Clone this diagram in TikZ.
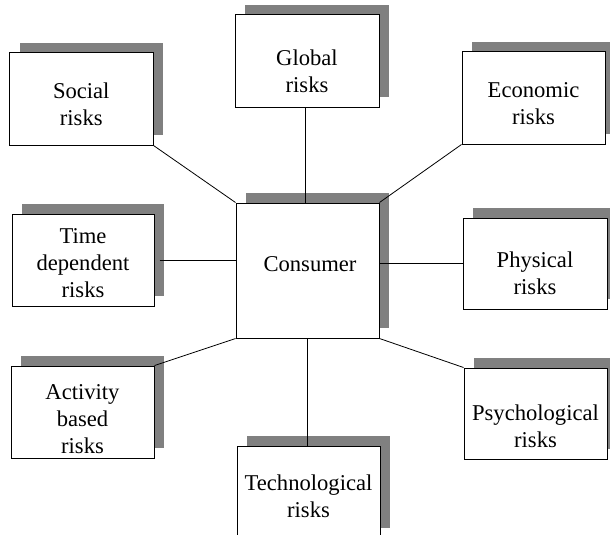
\documentclass[tikz,border=0pt]{standalone}
\usepackage{fontspec}
\setmainfont{Liberation Serif}
\usetikzlibrary{shadows}
\definecolor{shadowgray}{RGB}{128,128,128}
\begin{document}
\begin{tikzpicture}[x=1pt,y=-1pt,
  box/.style={draw, line width=1pt, fill=white, inner sep=0pt,
    drop shadow={shadow xshift=10pt, shadow yshift=10pt, fill=shadowgray, opacity=1}},
  txt/.style={align=center, font=\fontsize{22.6}{27}\selectfont, inner sep=0pt},
  link/.style={line width=0.8pt}]
\useasboundingbox (0,0) rectangle (610,535);
\clip (0,0) rectangle (610,535);
% boxes
\node[box, minimum width=143.5pt, minimum height=92pt] (social) at (81.25,99) {};
\node[box, minimum width=144pt, minimum height=92pt] (global) at (307,61) {};
\node[box, minimum width=143pt, minimum height=92pt] (economic) at (533.5,98) {};
\node[box, minimum width=142pt, minimum height=92pt] (time) at (83,260) {};
\node[box, minimum width=143pt, minimum height=135pt] (consumer) at (307.5,270.5) {};
\node[box, minimum width=144pt, minimum height=91pt] (physical) at (535,263.5) {};
\node[box, minimum width=143pt, minimum height=92pt] (activity) at (82.5,412) {};
\node[box, minimum width=143pt, minimum height=92pt] (tech) at (308.5,492) {};
\node[box, minimum width=143pt, minimum height=91pt] (psych) at (535.5,413.5) {};
% texts
\node[txt] (socialT) at (81.25,104) {Social\\risks};
\node[txt] (globalT) at (307,71) {Global\\risks};
\node[txt] (economicT) at (533.5,104) {Economic\\risks};
\node[txt] (timeT) at (83,263) {Time\\dependent\\risks};
\node[txt] (consumerT) at (310,264.5) {Consumer};
\node[txt] (physicalT) at (535,273.5) {Physical\\risks};
\node[txt] (activityT) at (82.5,419.5) {Activity\\based\\risks};
\node[txt] (techT) at (308.5,496) {Technological\\risks};
\node[txt] (psychT) at (535.5,426) {Psychological\\risks};
% connectors
\draw[link] (social.south east) -- (consumer.north west);
\draw[link] ([xshift=-2pt]global.south) -- ([xshift=-2pt]global.south |- consumer.north);
\draw[link] (economic.south west) -- (consumer.north east);
\draw[link] ([xshift=5pt]time.east) -- (time.east -| consumer.west);
\draw[link] (physical.west) -- (physical.west -| consumer.east);
\draw[link] (activity.north east) -- (consumer.south west);
\draw[link] (consumer.south) -- (consumer.south |- tech.north);
\draw[link] (psych.north west) -- (consumer.south east);
\end{tikzpicture}
\end{document}
